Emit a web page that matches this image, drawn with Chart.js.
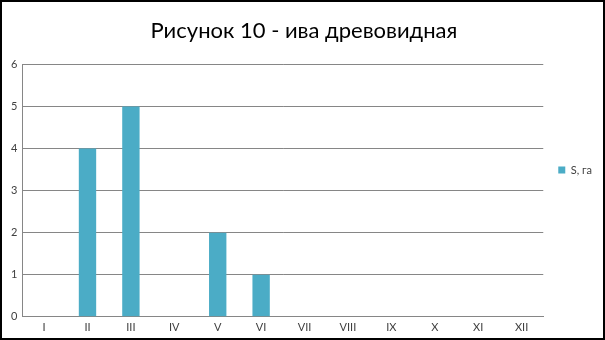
<!DOCTYPE html>
<html>
<head>
<meta charset="utf-8">
<script src="https://cdn.jsdelivr.net/npm/chart.js@4"></script>
<style>
  body { margin: 0; background: #fff; }
  #box { width: 605px; height: 340px; box-sizing: border-box; border: 2px solid #000; background: #fff; }
  canvas { display: block; }
</style>
</head>
<body>
<div id="box"><canvas id="myChart" width="601" height="336"></canvas></div>
<script>
// categories (months in roman numerals) and area values
var months = ['I', 'II', 'III', 'IV', 'V', 'VI', 'VII', 'VIII', 'IX', 'X', 'XI', 'XII'];
var areaValues = [0, 4, 5, 0, 2, 1, 0, 0, 0, 0, 0, 0];
var yTicks = [0, 1, 2, 3, 4, 5, 6];

var ctx = document.getElementById('myChart').getContext('2d');
var chart = new Chart(ctx, {
    type: 'bar',
    data: {
        labels: months,
        datasets: [{
            label: 'S, га',
            backgroundColor: '#4BACC6',
            borderWidth: 0,
            data: areaValues,
            barPercentage: 0.4,
            categoryPercentage: 1
        }]
    },
    options: {
        responsive: false,
        animation: false,
        layout: { padding: { left: 4, right: 1, top: 0, bottom: 0 } },
        plugins: {
            title: {
                display: true,
                text: 'Рисунок 10 - ива древовидная',
                color: '#000',
                font: { family: 'Lato', size: 22, weight: 'normal' },
                padding: { top: 16, bottom: 20 }
            },
            legend: {
                position: 'right',
                labels: {
                    boxWidth: 7,
                    boxHeight: 7,
                    color: '#404040',
                    font: { family: 'Lato', size: 11 },
                    padding: 15
                }
            },
            tooltip: { enabled: false }
        },
        scales: {
            x: {
                grid: { display: false, drawTicks: false },
                border: { color: '#868686', width: 1 },
                ticks: { color: '#404040', font: { family: 'Lato', size: 11 }, padding: 4, maxRotation: 0 }
            },
            y: {
                min: 0,
                max: yTicks[yTicks.length - 1],
                afterBuildTicks: function (axis) {
                    axis.ticks = yTicks.map(function (v) { return { value: v }; });
                },
                grid: { color: '#868686', drawTicks: false },
                border: { color: '#868686', width: 1 },
                ticks: { color: '#404040', font: { family: 'Lato', size: 11 }, padding: 5 }
            }
        }
    }
});
</script>
</body>
</html>
